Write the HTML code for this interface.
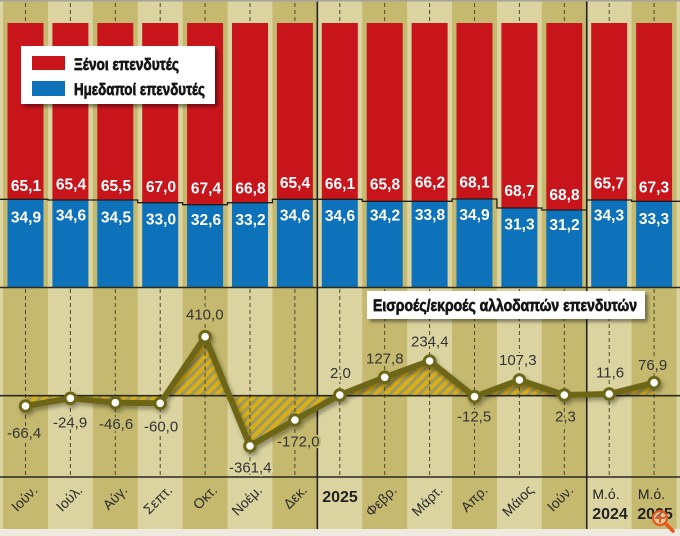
<!DOCTYPE html>
<html><head><meta charset="utf-8"><style>html,body{margin:0;padding:0;background:#eeeadf;}svg{display:block}</style></head>
<body>
<svg width="680" height="536" viewBox="0 0 680 536" xmlns="http://www.w3.org/2000/svg" font-family="'Liberation Sans', 'Noto Sans CJK SC', sans-serif">
<defs>
<pattern id="hatch" patternUnits="userSpaceOnUse" width="7" height="7" patternTransform="rotate(45)">
<rect width="7" height="7" fill="#d9af17"/>
<rect width="3" height="7" fill="#9f9960"/>
</pattern>
<filter id="sh" x="-10%" y="-20%" width="130%" height="150%"><feDropShadow dx="2" dy="3" stdDeviation="2" flood-color="#000" flood-opacity="0.35"/></filter>
<filter id="bsh" x="-5%" y="-10%" width="115%" height="140%"><feDropShadow dx="3" dy="3" stdDeviation="1.5" flood-color="#000" flood-opacity="0.4"/></filter>
</defs>
<rect width="680" height="536" fill="#eeeadf"/>
<rect x="0" y="0" width="680" height="1.5" fill="#a3a39a"/>
<rect x="0" y="1.5" width="680" height="527.5" fill="#dbd4a0"/>
<g fill="#c5b96f">
<rect x="3.05" y="1.5" width="44.9" height="527.5"/>
<rect x="92.85" y="1.5" width="44.9" height="527.5"/>
<rect x="182.65" y="1.5" width="44.9" height="527.5"/>
<rect x="272.45" y="1.5" width="44.9" height="527.5"/>
<rect x="362.25" y="1.5" width="44.9" height="527.5"/>
<rect x="452.05" y="1.5" width="44.9" height="527.5"/>
<rect x="541.85" y="1.5" width="44.9" height="527.5"/>
<rect x="631.65" y="1.5" width="44.9" height="527.5"/>
</g>

<g stroke="#4d4830" stroke-width="1" stroke-dasharray="4 3">
<path d="M25.5 3V23M70.4 3V23M115.3 3V23M160.2 3V23M205.1 3V23M250 3V23M294.9 3V23M339.8 3V23M384.7 3V23M429.6 3V23M474.5 3V23M519.4 3V23M564.3 3V23M609.2 3V23M654.1 3V23"/>
</g>

<g stroke="#222" stroke-width="1.6">
<line x1="317.35" y1="1.5" x2="317.35" y2="529"/>
<line x1="586.75" y1="1.5" x2="586.75" y2="529"/>
</g>

<g fill="#c8151c">
<rect x="7.5" y="23" width="36" height="176.3"/>
<rect x="52.4" y="23" width="36" height="177"/>
<rect x="97.3" y="23" width="36" height="177"/>
<rect x="142.2" y="23" width="36" height="179.7"/>
<rect x="187.1" y="23" width="36" height="181.7"/>
<rect x="232" y="23" width="36" height="179.7"/>
<rect x="276.9" y="23" width="36" height="176.3"/>
<rect x="321.8" y="23" width="36" height="176.3"/>
<rect x="366.7" y="23" width="36" height="178.3"/>
<rect x="411.6" y="23" width="36" height="178.3"/>
<rect x="456.5" y="23" width="36" height="176"/>
<rect x="501.4" y="23" width="36" height="185"/>
<rect x="546.3" y="23" width="36" height="187"/>
<rect x="591.2" y="23" width="36" height="177"/>
<rect x="636.1" y="23" width="36" height="178.3"/>
</g>
<g fill="#0d72b9">
<rect x="7.5" y="199.3" width="36" height="88.2"/>
<rect x="52.4" y="200" width="36" height="87.5"/>
<rect x="97.3" y="200" width="36" height="87.5"/>
<rect x="142.2" y="202.7" width="36" height="84.8"/>
<rect x="187.1" y="204.7" width="36" height="82.8"/>
<rect x="232" y="202.7" width="36" height="84.8"/>
<rect x="276.9" y="199.3" width="36" height="88.2"/>
<rect x="321.8" y="199.3" width="36" height="88.2"/>
<rect x="366.7" y="201.3" width="36" height="86.2"/>
<rect x="411.6" y="201.3" width="36" height="86.2"/>
<rect x="456.5" y="199" width="36" height="88.5"/>
<rect x="501.4" y="208" width="36" height="79.5"/>
<rect x="546.3" y="210" width="36" height="77.5"/>
<rect x="591.2" y="200" width="36" height="87.5"/>
<rect x="636.1" y="201.3" width="36" height="86.2"/>
</g>
<path d="M0,199.3 H47.95 V200 H92.85 V200 H137.75 V202.7 H182.65 V204.7 H227.55 V202.7 H272.45 V199.3 H317.35 V199.3 H362.25 V201.3 H407.15 V201.3 H452.05 V199 H496.95 V208 H541.85 V210 H586.75 V200 H631.65 V201.3 H680" fill="none" stroke="#1e1e1e" stroke-width="1.3"/>

<g fill="#fff" font-weight="bold" font-size="15.5" text-anchor="middle">
<text x="26" y="191">65,1</text>
<text x="71" y="189.5">65,4</text>
<text x="116" y="191">65,5</text>
<text x="161" y="192">67,0</text>
<text x="206" y="193.5">67,4</text>
<text x="250.5" y="193.5">66,8</text>
<text x="295" y="188">65,4</text>
<text x="340" y="189">66,1</text>
<text x="385" y="189.3">65,8</text>
<text x="430" y="187.7">66,2</text>
<text x="474.5" y="187.7">68,1</text>
<text x="519.5" y="196">68,7</text>
<text x="564.5" y="200">68,8</text>
<text x="609" y="188.3">65,7</text>
<text x="654" y="192.7">67,3</text>

<text x="26" y="222.7">34,9</text>
<text x="71" y="220.7">34,6</text>
<text x="116" y="222.7">34,5</text>
<text x="161" y="224.3">33,0</text>
<text x="206" y="225">32,6</text>
<text x="250.5" y="225">33,2</text>
<text x="295" y="220.7">34,6</text>
<text x="340" y="221">34,6</text>
<text x="385" y="220.7">34,2</text>
<text x="430" y="220">33,8</text>
<text x="474.5" y="220">34,9</text>
<text x="519.5" y="229.3">31,3</text>
<text x="564.5" y="230">31,2</text>
<text x="609" y="220.7">34,3</text>
<text x="654" y="224">33,3</text>
</g>

<rect x="21" y="46" width="194" height="58" fill="#fff" filter="url(#bsh)"/>
<rect x="32" y="56" width="33" height="14" fill="#c8151c"/>
<rect x="32" y="81" width="33" height="15" fill="#0d72b9"/>
<g font-family="'Liberation Sans',sans-serif" font-weight="bold" font-size="16.5" fill="#151515" stroke="#151515" stroke-width="0.7">
<text x="74" y="70" textLength="105" lengthAdjust="spacingAndGlyphs">Ξένοι επενδυτές</text>
<text x="74" y="95" textLength="131" lengthAdjust="spacingAndGlyphs">Ημεδαποί επενδυτές</text>
</g>

<path d="M25.5,395.7 L25.5,406 L70.4,398.3 L115.3,402.7 L160.2,403.3 L205.1,336.7 L250,446 L294.9,420 L339.8,395 L384.7,377.3 L429.6,361 L474.5,396.7 L519.4,380 L564.3,395 L609.2,394 L654.1,382.7 L654.1,395.7 Z" fill="url(#hatch)"/>
<g stroke="#4d4830" stroke-width="1" stroke-dasharray="4 3">
<path d="M25.5 289V477M70.4 289V477M115.3 289V477M160.2 289V477M205.1 289V477M250 289V477M294.9 289V477M339.8 289V477M384.7 289V477M429.6 289V477M474.5 289V477M519.4 289V477M564.3 289V477M609.2 289V477M654.1 289V477"/>
</g>
<g stroke="#2a2a1e" stroke-width="1.6">
<line x1="0" y1="287.5" x2="680" y2="287.5"/>
<line x1="0" y1="395.7" x2="680" y2="395.7"/>
<line x1="0" y1="477" x2="680" y2="477"/>
</g>

<g filter="url(#sh)">
<polyline points="25.5,406 70.4,398.3 115.3,402.7 160.2,403.3 205.1,336.7 250,446 294.9,420 339.8,395 384.7,377.3 429.6,361 474.5,396.7 519.4,380 564.3,395 609.2,394 654.1,382.7" fill="none" stroke="#6c6618" stroke-width="6" stroke-linejoin="round" stroke-linecap="round"/>
<g fill="#fff" stroke="#6c6618" stroke-width="3">
<circle cx="25.5" cy="406" r="5.3"/>
<circle cx="70.4" cy="398.3" r="5.3"/>
<circle cx="115.3" cy="402.7" r="5.3"/>
<circle cx="160.2" cy="403.3" r="5.3"/>
<circle cx="205.1" cy="336.7" r="5.3"/>
<circle cx="250" cy="446" r="5.3"/>
<circle cx="294.9" cy="420" r="5.3"/>
<circle cx="339.8" cy="395" r="5.3"/>
<circle cx="384.7" cy="377.3" r="5.3"/>
<circle cx="429.6" cy="361" r="5.3"/>
<circle cx="474.5" cy="396.7" r="5.3"/>
<circle cx="519.4" cy="380" r="5.3"/>
<circle cx="564.3" cy="395" r="5.3"/>
<circle cx="609.2" cy="394" r="5.3"/>
<circle cx="654.1" cy="382.7" r="5.3"/>
</g>
</g>

<g font-size="15" fill="#333" paint-order="stroke" stroke-width="4" stroke-linejoin="round">
<text x="7" y="438" stroke="#c5b96f">-66,4</text>
<text x="53" y="427.3" stroke="#dbd4a0">-24,9</text>
<text x="99" y="429" stroke="#c5b96f">-46,6</text>
<text x="144" y="431.7" stroke="#dbd4a0">-60,0</text>
<text x="186" y="319.3" stroke="#c5b96f">410,0</text>
<text x="229" y="472.3" stroke="#dbd4a0">-361,4</text>
<text x="277" y="446.7" stroke="#c5b96f">-172,0</text>
<text x="330" y="378" stroke="#dbd4a0">2,0</text>
<text x="366" y="363.3" stroke="#c5b96f">127,8</text>
<text x="411" y="346.7" stroke="#dbd4a0">234,4</text>
<text x="457" y="421.7" stroke="#c5b96f">-12,5</text>
<text x="499" y="365" stroke="#dbd4a0">107,3</text>
<text x="555" y="421.7" stroke="#c5b96f">2,3</text>
<text x="596" y="377.3" stroke="#dbd4a0">11,6</text>
<text x="638" y="370" stroke="#c5b96f">76,9</text>
</g>

<rect x="367" y="291" width="278" height="28" fill="#fff" filter="url(#bsh)"/>
<text x="373" y="311" font-family="'Liberation Sans',sans-serif" font-weight="bold" font-size="16.5" fill="#151515" stroke="#151515" stroke-width="0.7" textLength="264" lengthAdjust="spacingAndGlyphs">Εισροές/εκροές αλλοδαπών επενδυτών</text>

<g font-size="14" fill="#2a2a2a" text-anchor="end">
<text transform="translate(38.5,491) rotate(-45)">Ιούν.</text>
<text transform="translate(83.4,491) rotate(-45)">Ιούλ.</text>
<text transform="translate(128.3,491) rotate(-45)">Αύγ.</text>
<text transform="translate(173.2,491) rotate(-45)">Σεπτ.</text>
<text transform="translate(218.1,491) rotate(-45)">Οκτ.</text>
<text transform="translate(263,491) rotate(-45)">Νοέμ.</text>
<text transform="translate(307.9,491) rotate(-45)">Δεκ.</text>
<text transform="translate(397.7,491) rotate(-45)">Φεβρ.</text>
<text transform="translate(443.6,491) rotate(-45)">Μάρτ.</text>
<text transform="translate(488.5,491) rotate(-45)">Απρ.</text>
<text transform="translate(534.4,491) rotate(-45)">Μάιος</text>
<text transform="translate(574.3,491) rotate(-45)">Ιούν.</text>
</g>
<g fill="#222" text-anchor="middle">
<text x="340" y="502" font-size="16" font-weight="bold">2025</text>
<text x="606" y="499" font-size="14">Μ.ό.</text>
<text x="610" y="519" font-size="16" font-weight="bold">2024</text>
<text x="651.5" y="499" font-size="14">Μ.ό.</text>
<text x="655" y="519" font-size="16" font-weight="bold">2025</text>
</g>

<g stroke="#e8561c" stroke-linecap="round" fill="none">
<circle cx="660" cy="518" r="7" fill="rgba(255,255,255,0.35)" stroke-width="2.2"/>
<line x1="660" y1="514" x2="660" y2="522" stroke-width="2"/>
<line x1="656" y1="518" x2="664" y2="518" stroke-width="2"/>
<line x1="665.5" y1="523.5" x2="673" y2="531" stroke-width="3.5"/>
</g>
</svg>
</body></html>
